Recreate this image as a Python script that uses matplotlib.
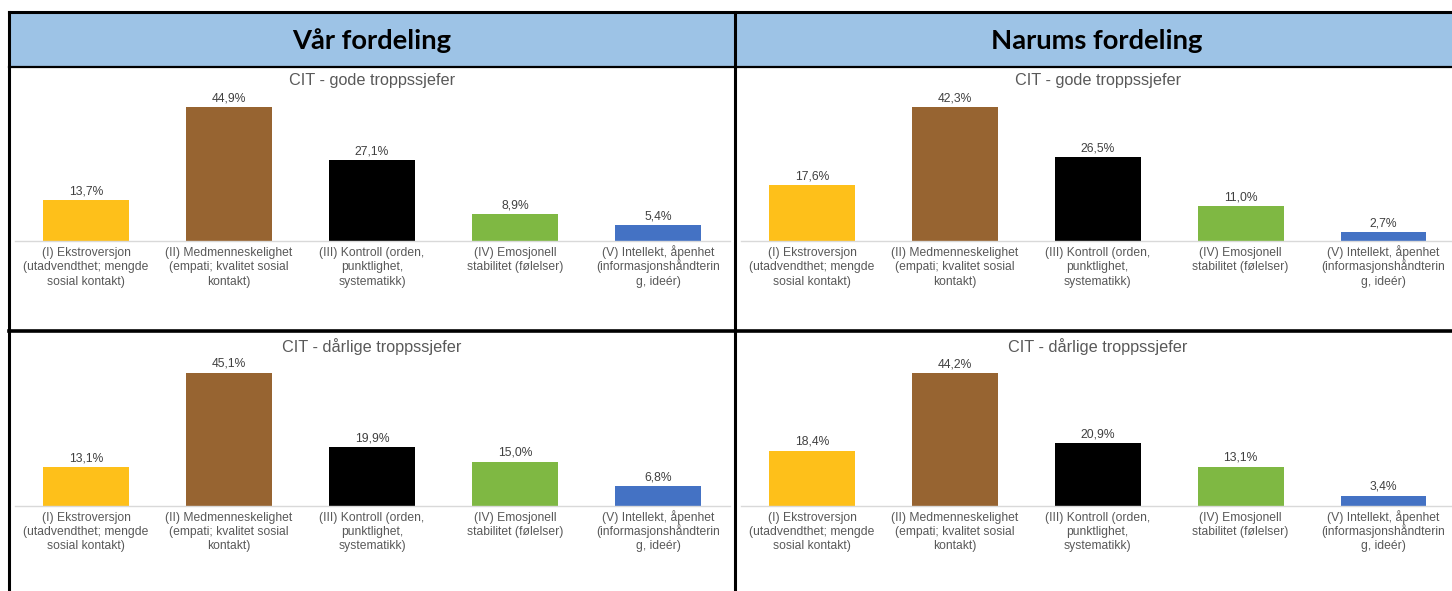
#==============================================================================#
#        CIT fordeling - vaar fordeling vs Narums fordeling (bar chart)         #
#==============================================================================#
import matplotlib
matplotlib.use('Agg')
import matplotlib.pyplot as plt
from matplotlib.patches import Rectangle
from matplotlib.lines import Line2D

#==============================================================================#
#                                   Data                                       #
#==============================================================================#
categories = ['(I) Ekstroversjon\n(utadvendthet; mengde\nsosial kontakt)',
              '(II) Medmenneskelighet\n(empati; kvalitet sosial\nkontakt)',
              '(III) Kontroll (orden,\npunktlighet,\nsystematikk)',
              '(IV) Emosjonell\nstabilitet (følelser)',
              '(V) Intellekt, åpenhet\n(informasjonshåndterin\ng, ideér)']
bar_colors = ['#FEC01A', '#976431', '#000000', '#7FB843', '#4472C4']

column_titles = ['Vår fordeling', 'Narums fordeling']
chart_titles = ['CIT - gode troppssjefer', 'CIT - dårlige troppssjefer']

vaar_gode = [13.7, 44.9, 27.1, 8.9, 5.4]
vaar_daarlige = [13.1, 45.1, 19.9, 15.0, 6.8]
narum_gode = [17.6, 42.3, 26.5, 11.0, 2.7]
narum_daarlige = [18.4, 44.2, 20.9, 13.1, 3.4]

#==============================================================================#
#                          Figure and helpers (pixels)                         #
#==============================================================================#
W, H = 1452, 591
fig = plt.figure(figsize=(W / 100, H / 100), dpi=100)
plt.rcParams['font.family'] = ['Liberation Sans', 'DejaVu Sans']

def fx(x):
    return x / W

def fy(y):
    return 1 - y / H

# header band
fig.patches.append(Rectangle((fx(9), fy(67)), fx(W - 9), 55 / H,
                             transform=fig.transFigure, facecolor='#9DC3E6',
                             edgecolor='none', zorder=0))
for x, name in zip([372, 1097], column_titles):
    fig.text(fx(x), fy(41), name, ha='center', va='center', fontsize=19.7,
             fontweight='bold', family=['Lato', 'DejaVu Sans'], color='black')

# table lines
lines = [((9, 9), (12, H), 2.2), ((9, W), (12, 12), 2.2),
         ((9, W), (67, 67), 1.6), ((735, 735), (12, H), 2.2),
         ((9, W), (331, 331), 2.6)]
for xs, ys, lw in lines:
    fig.add_artist(Line2D([fx(xs[0]), fx(xs[1])], [fy(ys[0]), fy(ys[1])],
                          transform=fig.transFigure, color='black', lw=lw))

#==============================================================================#
#                                  Charts                                      #
#==============================================================================#
def draw_chart(x0, x1, base, bar_top, title, title_y, values):
    ax_top = bar_top - 8
    ax = fig.add_axes([fx(x0), fy(base), fx(x1 - x0), (base - ax_top) / H])
    pos = range(len(values))
    ax.bar(pos, values, width=0.6, color=bar_colors, zorder=2)
    ax.set_xlim(-0.5, len(values) - 0.5)
    ax.set_ylim(0, max(values) * (base - ax_top) / (base - bar_top))
    for p, v in zip(pos, values):
        ax.annotate(f'{v:.1f}'.replace('.', ',') + '%', xy=(p, v),
                    xytext=(0, 2), textcoords='offset points', ha='center',
                    va='bottom', fontsize=8.7, color='#404040')
    # category labels, one text per line on a fixed baseline grid
    for p, lab in zip(pos, categories):
        for k, part in enumerate(lab.split('\n')):
            ax.annotate(part, xy=(p, 0), xycoords=('data', 'axes fraction'),
                        xytext=(0, -(14.5 + 14.5 * k) * 0.72),
                        textcoords='offset points', ha='center', va='baseline',
                        fontsize=8.7, color='#595959')
    ax.set_xticks([])
    ax.set_yticks([])
    for s in ['top', 'right', 'left']:
        ax.spines[s].set_visible(False)
    ax.spines['bottom'].set_color('#D9D9D9')
    ax.spines['bottom'].set_linewidth(1)
    ax.patch.set_alpha(0)
    fig.text(fx((x0 + x1) / 2), fy(title_y), title, ha='center', va='center',
             fontsize=11.7, color='#595959')

draw_chart(14.5, 729.5, 241, 107, chart_titles[0], 81, vaar_gode)
draw_chart(740.5, 1455, 241, 107, chart_titles[0], 81, narum_gode)
draw_chart(14.5, 729.5, 506, 372.5, chart_titles[1], 347, vaar_daarlige)
draw_chart(740.5, 1455, 506, 373, chart_titles[1], 347, narum_daarlige)

plt.savefig('out.png', dpi=100)
plt.close()
